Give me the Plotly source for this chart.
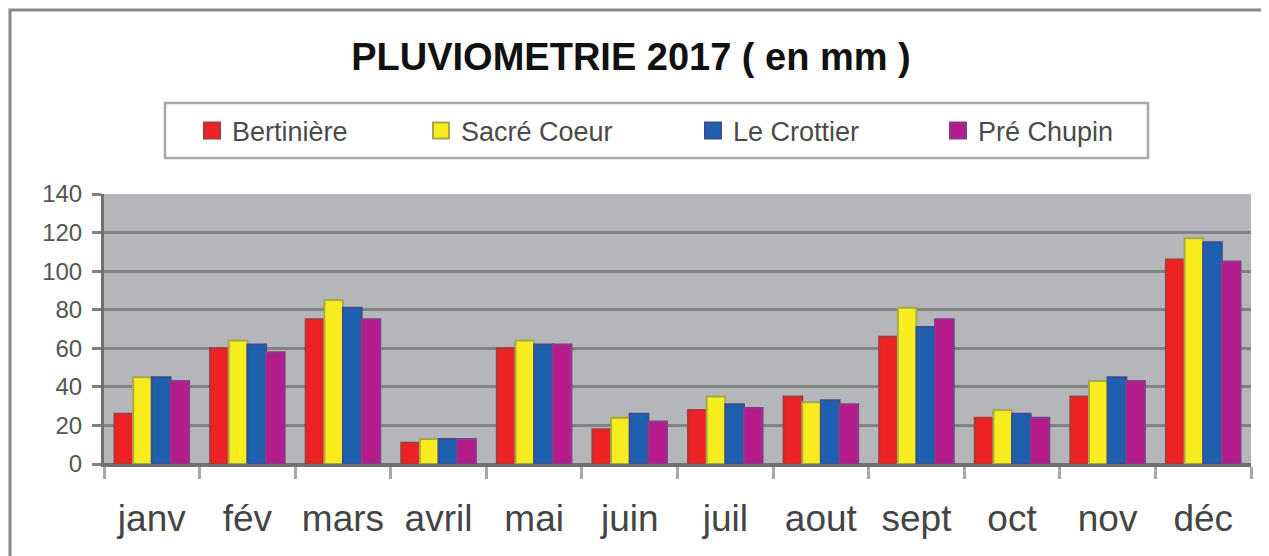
import plotly.graph_objects as go

months = ["janv", "fév", "mars", "avril", "mai", "juin", "juil", "aout", "sept", "oct", "nov", "déc"]
bertiniere = [26, 60, 75, 11, 60, 18, 28, 35, 66, 24, 35, 106]
sacre_coeur = [45, 64, 85, 13, 64, 24, 35, 32, 81, 28, 43, 117]
le_crottier = [45, 62, 81, 13, 62, 26, 31, 33, 71, 26, 45, 115]
pre_chupin = [43, 58, 75, 13, 62, 22, 29, 31, 75, 24, 43, 105]

series = [
    ("Bertinière", bertiniere, "#EE2224", "#A83A3A"),
    ("Sacré Coeur", sacre_coeur, "#F6EC1E", "#A8A84A"),
    ("Le Crottier", le_crottier, "#1F60B0", "#3A4F8F"),
    ("Pré Chupin", pre_chupin, "#B51C8C", "#8A3A8A"),
]

# page body has an 8px margin: work in screen pixels and convert
OFF = 8
W, H = 1269 - OFF, 556 - OFF
PL, PR, PT, PB = 104, 1251, 194, 464  # plot area in screen pixels
L, R, T, B = PL - OFF, W - (PR - OFF), PT - OFF, H - (PB - OFF)
pw, ph = PR - PL, PB - PT

def sx(px):
    return (px - PL) / pw

def sy(py):
    return (PB - py) / ph

FONT = "Liberation Sans, Arial, sans-serif"
legend_ids = ["legend", "legend2", "legend3", "legend4"]
legend_left_px = [192, 421, 693, 938]

fig = go.Figure()
for name, vals, col, edge in series:
    fig.add_trace(go.Bar(
        x=months, y=vals, name=name, showlegend=False,
        marker=dict(color=col, line=dict(color=edge, width=2)),
    ))
# legend entries (square swatches), one small legend per entry
for (name, vals, col, edge), lid in zip(series, legend_ids):
    fig.add_trace(go.Scatter(
        x=[None], y=[None], name=name, mode="markers", legend=lid,
        marker=dict(symbol="square", size=16, color=col, line=dict(color=edge, width=2)),
    ))

legend_style = dict(
    orientation="h", xanchor="left", y=sy(131), yanchor="middle",
    borderwidth=0, bgcolor="rgba(0,0,0,0)",
    font=dict(size=27, color="#4A4A4A", family=FONT),
    itemwidth=30,
)
legends = {lid: dict(x=sx(px), **legend_style) for lid, px in zip(legend_ids, legend_left_px)}

fig.update_layout(
    width=W, height=H,
    margin=dict(l=L, r=R, t=T, b=B, autoexpand=False),
    paper_bgcolor="white",
    plot_bgcolor="#B5B6B9",
    barmode="group",
    bargap=0.22,
    bargroupgap=0,
    font=dict(family=FONT, color="#333333"),
    title=dict(
        text="<b>PLUVIOMETRIE 2017 ( en mm )</b>",
        x=sx(631), xref="paper", xanchor="center",
        y=1 - (57 - OFF) / H, yanchor="middle",
        font=dict(size=38, color="#111111", family=FONT),
    ),
    showlegend=True,
    **legends,
)

fig.update_xaxes(
    showline=True, linecolor="#707070", linewidth=3,
    ticks="outside", tickson="boundaries", ticklen=12, tickwidth=3, tickcolor="#A8A8A8",
    tickfont=dict(size=37, color="#444444", family=FONT),
    ticklabelstandoff=20,
    showgrid=False, automargin=False,
)
fig.update_yaxes(
    range=[0, 140], dtick=20,
    showline=True, linecolor="#707070", linewidth=3,
    ticks="outside", ticklen=9, tickwidth=3, tickcolor="#808080",
    tickfont=dict(size=24, color="#555555", family=FONT),
    ticklabelstandoff=5,
    showgrid=True, gridcolor="#828282", gridwidth=3,
    zeroline=True, zerolinecolor="#707070", zerolinewidth=3,
    automargin=False,
)

# outer chart frame
fig.add_shape(
    type="rect", xref="paper", yref="paper",
    x0=sx(10), x1=sx(1300),
    y0=sy(620), y1=sy(10),
    line=dict(color="#8A8A8A", width=3), fillcolor="rgba(0,0,0,0)",
    layer="below",
)
# legend box
fig.add_shape(
    type="rect", xref="paper", yref="paper",
    x0=sx(165), x1=sx(1148),
    y0=sy(158), y1=sy(103),
    line=dict(color="#A8A8A8", width=2.5), fillcolor="rgba(0,0,0,0)",
    layer="below",
)

fig.write_html("out.html")
